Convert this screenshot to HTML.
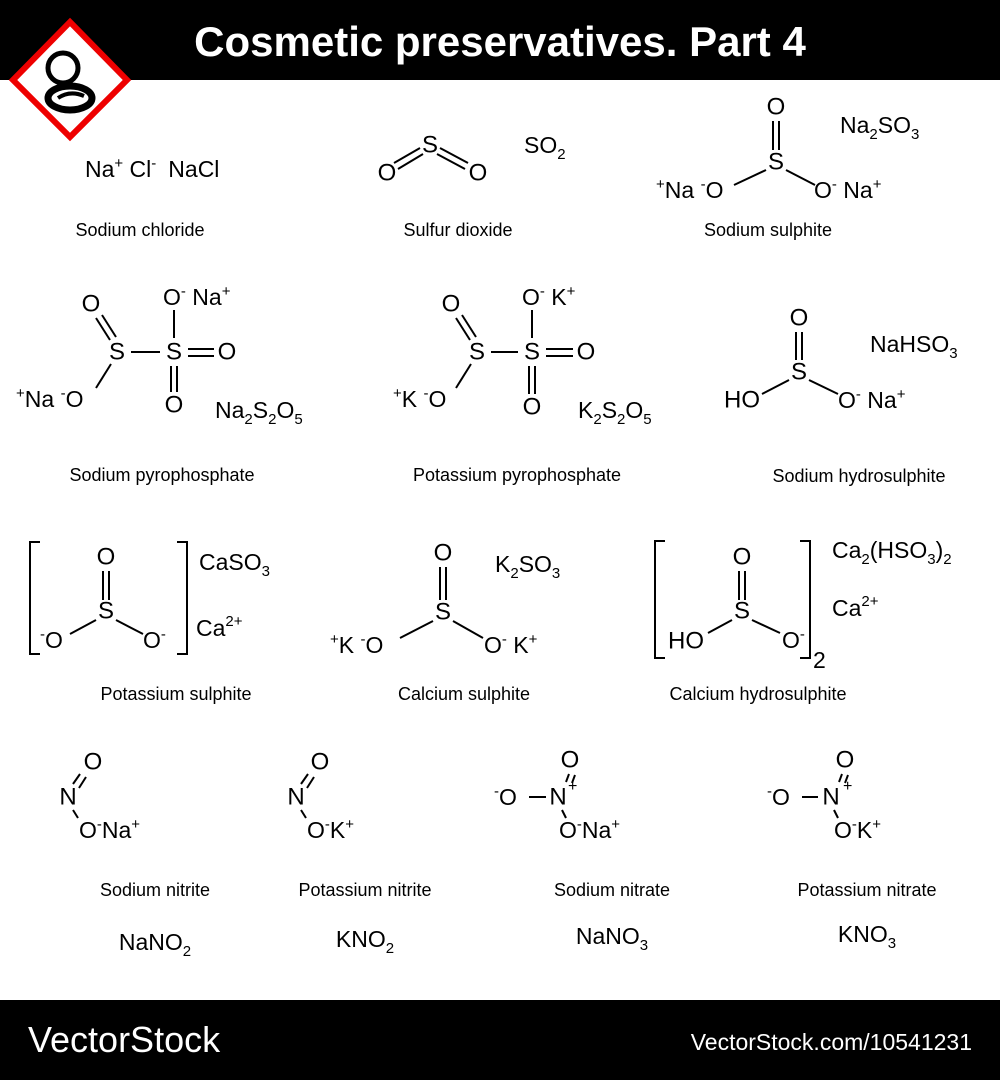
<!DOCTYPE html>
<html><head><meta charset="utf-8"><style>
html,body{margin:0;padding:0;background:#fff;width:1000px;height:1080px;overflow:hidden}
svg text{font-family:"Liberation Sans",sans-serif;fill:#000}
.a{font-size:24px;text-anchor:middle;dominant-baseline:central}
.f{font-size:23px}
.l{font-size:18px;text-anchor:middle}
.s{font-size:15px}
</style></head><body>
<svg width="1000" height="1080" viewBox="0 0 1000 1080" xmlns="http://www.w3.org/2000/svg">
<rect x="0" y="0" width="1000" height="80" fill="#000"/>
<text x="500" y="56" style="font-size:42px;font-weight:bold;fill:#fff;text-anchor:middle">Cosmetic preservatives. Part 4</text>
<!-- logo -->
<polygon points="70,22 127,80 70,137 13,80" fill="#fff" stroke="#e00" stroke-width="6"/>
<circle cx="63" cy="68" r="15" fill="none" stroke="#000" stroke-width="5"/>
<ellipse cx="70" cy="98" rx="22" ry="12" fill="none" stroke="#000" stroke-width="7"/>
<path d="M58,98 q12,-8 26,-2" stroke="#000" stroke-width="4" fill="none"/>
<rect x="0" y="1000" width="1000" height="80" fill="#000"/>
<text x="28" y="1052" style="font-size:36px;fill:#fff">VectorStock</text>
<text x="972" y="1050" style="font-size:23px;fill:#fff;text-anchor:end">VectorStock.com/10541231</text>

<g stroke="#000" stroke-width="2" fill="none">
<line x1="394" y1="163" x2="420" y2="148"/><line x1="398" y1="169" x2="423" y2="154"/>
<line x1="440" y1="148" x2="468" y2="163"/><line x1="437" y1="154" x2="465" y2="169"/>
<line x1="773" y1="121" x2="773" y2="150"/><line x1="779" y1="121" x2="779" y2="150"/>
<line x1="766" y1="170" x2="734" y2="185"/><line x1="786" y1="170" x2="815" y2="185"/>
<line x1="96" y1="318" x2="110" y2="340"/><line x1="102" y1="315" x2="116" y2="337"/>
<line x1="111" y1="364" x2="96" y2="388"/>
<line x1="131" y1="352" x2="160" y2="352"/>
<line x1="174" y1="310" x2="174" y2="338"/>
<line x1="188" y1="349" x2="214" y2="349"/><line x1="188" y1="356" x2="214" y2="356"/>
<line x1="171" y1="366" x2="171" y2="392"/><line x1="177" y1="366" x2="177" y2="392"/>
<line x1="456" y1="318" x2="470" y2="340"/><line x1="462" y1="315" x2="476" y2="337"/>
<line x1="471" y1="364" x2="456" y2="388"/>
<line x1="491" y1="352" x2="518" y2="352"/>
<line x1="532" y1="310" x2="532" y2="338"/>
<line x1="546" y1="349" x2="573" y2="349"/><line x1="546" y1="356" x2="573" y2="356"/>
<line x1="529" y1="366" x2="529" y2="394"/><line x1="535" y1="366" x2="535" y2="394"/>
<line x1="796" y1="332" x2="796" y2="360"/><line x1="802" y1="332" x2="802" y2="360"/>
<line x1="789" y1="380" x2="762" y2="394"/><line x1="809" y1="380" x2="838" y2="394"/>
<polyline points="40,542 30,542 30,654 40,654"/>
<polyline points="177,542 187,542 187,654 177,654"/>
<line x1="103" y1="571" x2="103" y2="600"/><line x1="109" y1="571" x2="109" y2="600"/>
<line x1="96" y1="620" x2="70" y2="634"/><line x1="116" y1="620" x2="143" y2="634"/>
<line x1="440" y1="567" x2="440" y2="600"/><line x1="446" y1="567" x2="446" y2="600"/>
<line x1="433" y1="621" x2="400" y2="638"/><line x1="453" y1="621" x2="483" y2="638"/>
<polyline points="665,541 655,541 655,658 665,658"/>
<polyline points="800,541 810,541 810,658 800,658"/>
<line x1="739" y1="571" x2="739" y2="600"/><line x1="745" y1="571" x2="745" y2="600"/>
<line x1="732" y1="620" x2="708" y2="633"/><line x1="752" y1="620" x2="780" y2="633"/>
<line x1="73" y1="784" x2="80" y2="774"/><line x1="79" y1="788" x2="86" y2="777"/>
<line x1="73" y1="810" x2="78" y2="818"/>
<line x1="301" y1="784" x2="308" y2="774"/><line x1="307" y1="788" x2="314" y2="777"/>
<line x1="301" y1="810" x2="306" y2="818"/>
<line x1="529" y1="797" x2="546" y2="797"/>
<line x1="566" y1="782" x2="569" y2="774"/><line x1="572" y1="783" x2="575" y2="775"/>
<line x1="562" y1="810" x2="566" y2="818"/>
<line x1="802" y1="797" x2="818" y2="797"/>
<line x1="839" y1="782" x2="842" y2="774"/><line x1="845" y1="783" x2="848" y2="775"/>
<line x1="834" y1="810" x2="838" y2="818"/>
</g>

<text x="85" y="177" class="f">Na<tspan class="s" dy="-9">+</tspan><tspan dy="9"> Cl</tspan><tspan class="s" dy="-9">-</tspan><tspan dy="9" dx="12">NaCl</tspan></text>
<text x="140" y="236" class="l">Sodium chloride</text>
<text x="430" y="145" class="a">S</text><text x="387" y="173" class="a">O</text><text x="478" y="173" class="a">O</text>
<text x="524" y="153" class="f">SO<tspan class="s" dy="6">2</tspan></text>
<text x="458" y="236" class="l">Sulfur dioxide</text>
<text x="776" y="107" class="a">O</text><text x="776" y="162" class="a">S</text>
<text x="656" y="198" class="f"><tspan class="s" dy="-9">+</tspan><tspan dy="9">Na </tspan><tspan class="s" dy="-9">-</tspan><tspan dy="9">O</tspan></text>
<text x="814" y="198" class="f">O<tspan class="s" dy="-9">-</tspan><tspan dy="9"> Na</tspan><tspan class="s" dy="-9">+</tspan></text>
<text x="840" y="133" class="f">Na<tspan class="s" dy="6">2</tspan><tspan dy="-6">SO</tspan><tspan class="s" dy="6">3</tspan></text>
<text x="768" y="236" class="l">Sodium sulphite</text>

<text x="91" y="304" class="a">O</text><text x="117" y="352" class="a">S</text><text x="174" y="352" class="a">S</text>
<text x="163" y="305" class="f">O<tspan class="s" dy="-9">-</tspan><tspan dy="9"> Na</tspan><tspan class="s" dy="-9">+</tspan></text>
<text x="227" y="352" class="a">O</text><text x="174" y="405" class="a">O</text>
<text x="16" y="407" class="f"><tspan class="s" dy="-9">+</tspan><tspan dy="9">Na </tspan><tspan class="s" dy="-9">-</tspan><tspan dy="9">O</tspan></text>
<text x="215" y="418" class="f">Na<tspan class="s" dy="6">2</tspan><tspan dy="-6">S</tspan><tspan class="s" dy="6">2</tspan><tspan dy="-6">O</tspan><tspan class="s" dy="6">5</tspan></text>
<text x="162" y="481" class="l">Sodium pyrophosphate</text>

<text x="451" y="304" class="a">O</text><text x="477" y="352" class="a">S</text><text x="532" y="352" class="a">S</text>
<text x="522" y="305" class="f">O<tspan class="s" dy="-9">-</tspan><tspan dy="9"> K</tspan><tspan class="s" dy="-9">+</tspan></text>
<text x="586" y="352" class="a">O</text><text x="532" y="407" class="a">O</text>
<text x="393" y="407" class="f"><tspan class="s" dy="-9">+</tspan><tspan dy="9">K </tspan><tspan class="s" dy="-9">-</tspan><tspan dy="9">O</tspan></text>
<text x="578" y="418" class="f">K<tspan class="s" dy="6">2</tspan><tspan dy="-6">S</tspan><tspan class="s" dy="6">2</tspan><tspan dy="-6">O</tspan><tspan class="s" dy="6">5</tspan></text>
<text x="517" y="481" class="l">Potassium pyrophosphate</text>

<text x="799" y="318" class="a">O</text><text x="799" y="372" class="a">S</text>
<text x="742" y="400" class="a">HO</text>
<text x="838" y="408" class="f">O<tspan class="s" dy="-9">-</tspan><tspan dy="9"> Na</tspan><tspan class="s" dy="-9">+</tspan></text>
<text x="870" y="352" class="f">NaHSO<tspan class="s" dy="6">3</tspan></text>
<text x="859" y="482" class="l">Sodium hydrosulphite</text>

<text x="106" y="557" class="a">O</text><text x="106" y="611" class="a">S</text>
<text x="40" y="648" class="f"><tspan class="s" dy="-9">-</tspan><tspan dy="9">O</tspan></text>
<text x="143" y="648" class="f">O<tspan class="s" dy="-9">-</tspan></text>
<text x="199" y="570" class="f">CaSO<tspan class="s" dy="6">3</tspan></text>
<text x="196" y="636" class="f">Ca<tspan class="s" dy="-10">2+</tspan></text>
<text x="176" y="700" class="l">Potassium sulphite</text>

<text x="443" y="553" class="a">O</text><text x="443" y="612" class="a">S</text>
<text x="330" y="653" class="f"><tspan class="s" dy="-9">+</tspan><tspan dy="9">K </tspan><tspan class="s" dy="-9">-</tspan><tspan dy="9">O</tspan></text>
<text x="484" y="653" class="f">O<tspan class="s" dy="-9">-</tspan><tspan dy="9"> K</tspan><tspan class="s" dy="-9">+</tspan></text>
<text x="495" y="572" class="f">K<tspan class="s" dy="6">2</tspan><tspan dy="-6">SO</tspan><tspan class="s" dy="6">3</tspan></text>
<text x="464" y="700" class="l">Calcium sulphite</text>

<text x="742" y="557" class="a">O</text><text x="742" y="611" class="a">S</text>
<text x="686" y="641" class="a">HO</text>
<text x="782" y="648" class="f">O<tspan class="s" dy="-9">-</tspan></text>
<text x="813" y="668" class="f">2</text>
<text x="832" y="558" class="f">Ca<tspan class="s" dy="6">2</tspan><tspan dy="-6">(HSO</tspan><tspan class="s" dy="6">3</tspan><tspan dy="-6">)</tspan><tspan class="s" dy="6">2</tspan></text>
<text x="832" y="616" class="f">Ca<tspan class="s" dy="-10">2+</tspan></text>
<text x="758" y="700" class="l">Calcium hydrosulphite</text>

<text x="68" y="797" class="a">N</text><text x="93" y="762" class="a">O</text>
<text x="79" y="838" class="f">O<tspan class="s" dy="-9">-</tspan><tspan dy="9">Na</tspan><tspan class="s" dy="-9">+</tspan></text>
<text x="155" y="896" class="l">Sodium nitrite</text>
<text x="155" y="950" class="f" style="text-anchor:middle">NaNO<tspan class="s" dy="6">2</tspan></text>

<text x="296" y="797" class="a">N</text><text x="320" y="762" class="a">O</text>
<text x="307" y="838" class="f">O<tspan class="s" dy="-9">-</tspan><tspan dy="9">K</tspan><tspan class="s" dy="-9">+</tspan></text>
<text x="365" y="896" class="l">Potassium nitrite</text>
<text x="365" y="947" class="f" style="text-anchor:middle">KNO<tspan class="s" dy="6">2</tspan></text>

<text x="494" y="805" class="f"><tspan class="s" dy="-9">-</tspan><tspan dy="9">O</tspan></text>
<text x="558" y="797" class="a">N</text><text x="568" y="791" class="f" style="font-size:16px">+</text>
<text x="570" y="760" class="a">O</text>
<text x="559" y="838" class="f">O<tspan class="s" dy="-9">-</tspan><tspan dy="9">Na</tspan><tspan class="s" dy="-9">+</tspan></text>
<text x="612" y="896" class="l">Sodium nitrate</text>
<text x="612" y="944" class="f" style="text-anchor:middle">NaNO<tspan class="s" dy="6">3</tspan></text>

<text x="767" y="805" class="f"><tspan class="s" dy="-9">-</tspan><tspan dy="9">O</tspan></text>
<text x="831" y="797" class="a">N</text><text x="843" y="791" class="f" style="font-size:16px">+</text>
<text x="845" y="760" class="a">O</text>
<text x="834" y="838" class="f">O<tspan class="s" dy="-9">-</tspan><tspan dy="9">K</tspan><tspan class="s" dy="-9">+</tspan></text>
<text x="867" y="896" class="l">Potassium nitrate</text>
<text x="867" y="942" class="f" style="text-anchor:middle">KNO<tspan class="s" dy="6">3</tspan></text>
</svg>
</body></html>
